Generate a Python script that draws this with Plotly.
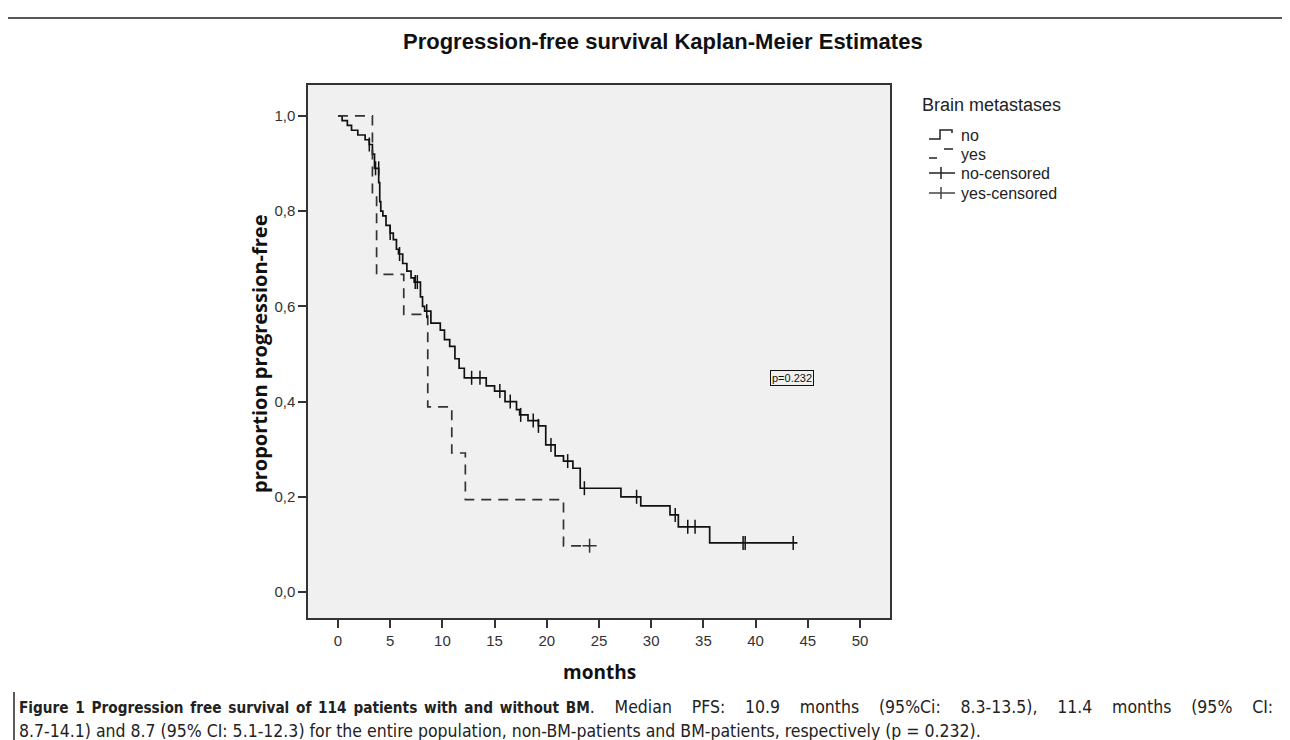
import plotly.graph_objects as go

W, H = 1290, 740

# ---------------- data ----------------
# "no" brain metastases: step curve (time in months, survival proportion)
no_time = [0.0, 0.4, 0.9, 1.3, 1.9, 2.6, 3.0, 3.3, 3.5, 3.9, 4.0, 4.1, 4.3, 4.6, 5.0,
           5.3, 5.6, 5.8, 6.2, 6.6, 7.0, 7.3, 7.9, 8.1, 8.3, 8.9, 9.8, 10.2, 10.7,
           11.2, 11.6, 12.1, 14.2, 15.0, 16.0, 17.1, 17.4, 18.2, 19.2, 19.9, 20.8,
           21.6, 22.5, 23.2, 27.1, 29.0, 31.8, 32.6, 35.6, 44.0]
no_surv = [1.0, 0.99, 0.98, 0.97, 0.96, 0.95, 0.94, 0.92, 0.89, 0.86, 0.82, 0.80, 0.79,
           0.77, 0.754, 0.74, 0.72, 0.71, 0.69, 0.674, 0.66, 0.651, 0.62, 0.60, 0.59,
           0.565, 0.55, 0.53, 0.516, 0.49, 0.47, 0.45, 0.433, 0.422, 0.40, 0.383,
           0.372, 0.36, 0.349, 0.309, 0.286, 0.275, 0.26, 0.218, 0.20, 0.181, 0.162,
           0.137, 0.103, 0.103]
no_cens_time = [3.0, 3.6, 3.9, 5.0, 5.9, 7.4, 7.6, 8.5, 12.8, 13.6, 15.5, 16.5, 17.5,
                18.7, 19.2, 20.4, 22.0, 23.6, 28.6, 32.3, 33.5, 34.2, 38.8, 39.0, 43.6]
no_cens_surv = [0.94, 0.89, 0.89, 0.754, 0.71, 0.651, 0.651, 0.59, 0.45, 0.45, 0.422,
                0.40, 0.372, 0.36, 0.349, 0.309, 0.275, 0.218, 0.20, 0.162, 0.137,
                0.137, 0.103, 0.103, 0.103]

# "yes" brain metastases
yes_time = [0.0, 3.3, 3.7, 6.3, 8.6, 10.9, 12.2, 21.6, 24.1]
yes_surv = [1.0, 0.833, 0.667, 0.583, 0.389, 0.292, 0.194, 0.097, 0.097]
yes_cens_time = [24.1]
yes_cens_surv = [0.097]

x_ticks = [0, 5, 10, 15, 20, 25, 30, 35, 40, 45, 50]
y_ticks = [0.0, 0.2, 0.4, 0.6, 0.8, 1.0]
y_tick_text = ["0,0", "0,2", "0,4", "0,6", "0,8", "1,0"]

legend_labels = ["no", "yes", "no-censored", "yes-censored"]

title_text = "Progression-free survival Kaplan-Meier Estimates"
legend_title = "Brain metastases"
p_text = "p=0.232"
caption1_bold = "Figure 1 Progression free survival of 114 patients with and without BM"
caption1_rest = ". Median PFS: 10.9 months (95%Ci: 8.3-13.5), 11.4 months (95% CI:"
caption2 = ("8.7-14.1) and 8.7 (95% CI: 5.1-12.3) for the entire population, "
            "non-BM-patients and BM-patients, respectively (p = 0.232).")

# ---------------- layout geometry (pixels) ----------------
PL, PR, PT, PB = 300, 882, 77, 610


def px(x):
    return x / W


def py(y):
    return 1 - y / H


fig = go.Figure()

fig.add_trace(go.Scatter(x=no_time, y=no_surv, mode="lines", name=legend_labels[0],
                         line=dict(shape="hv", color="#111111", width=1.7),
                         showlegend=False, hoverinfo="skip"))
fig.add_trace(go.Scatter(x=yes_time, y=yes_surv, mode="lines", name=legend_labels[1],
                         line=dict(shape="hv", color="#333333", width=1.7, dash="10px,7px"),
                         showlegend=False, hoverinfo="skip"))
fig.add_trace(go.Scatter(x=no_cens_time, y=no_cens_surv, mode="markers", name=legend_labels[2],
                         marker=dict(symbol="line-ns", size=10,
                                     line=dict(color="#111111", width=1.5)),
                         showlegend=False, hoverinfo="skip"))
fig.add_trace(go.Scatter(x=yes_cens_time, y=yes_cens_surv, mode="markers", name=legend_labels[3],
                         marker=dict(symbol="cross-thin", size=10,
                                     line=dict(color="#333333", width=1.5)),
                         showlegend=False, hoverinfo="skip"))

axis_font = dict(family="Liberation Sans, Arial, sans-serif", size=15, color="#333333")

fig.update_layout(
    width=W, height=H,
    margin=dict(l=0, r=0, t=0, b=0),
    paper_bgcolor="white",
    plot_bgcolor="#f0f0f0",
    showlegend=False,
    xaxis=dict(domain=[px(PL), px(PR)], range=[-2.87, 52.87],
               tickmode="array", tickvals=x_ticks, ticktext=[str(v) for v in x_ticks],
               ticks="outside", ticklen=8, tickwidth=1.5, tickcolor="#333333",
               showline=True, linecolor="#333333", linewidth=1.5, mirror=True,
               showgrid=False, zeroline=False, tickfont=axis_font),
    yaxis=dict(domain=[py(PB), py(PT)], range=[-0.0546, 1.065],
               tickmode="array", tickvals=y_ticks, ticktext=y_tick_text,
               ticks="outside", ticklen=8, tickwidth=1.5, tickcolor="#333333",
               showline=True, linecolor="#333333", linewidth=1.5, mirror=True,
               showgrid=False, zeroline=False, tickfont=axis_font),
)

ann = []
# title
ann.append(dict(text="<b>" + title_text + "</b>", x=px(655), y=py(34), xref="paper", yref="paper",
                showarrow=False, xanchor="center", yanchor="middle",
                font=dict(family="Liberation Sans, Arial", size=22, color="#111111")))
# axis titles
ann.append(dict(text="<b>proportion progression-free</b>", x=px(252), y=0.5, xref="paper",
                yref="y", showarrow=False, textangle=-90, xanchor="center", yanchor="middle",
                font=dict(family="Open Sans, sans-serif", size=20, color="#111111")))
ann.append(dict(text="<b>months</b>", x=25, y=py(664), xref="x", yref="paper",
                showarrow=False, xanchor="center", yanchor="middle",
                font=dict(family="Open Sans, sans-serif", size=19, color="#111111")))
# p value box
ann.append(dict(text=p_text, x=43.5, y=0.45, xref="x", yref="y", showarrow=False,
                xanchor="center", yanchor="middle", bordercolor="#111111", borderwidth=1,
                borderpad=1, bgcolor="#f0f0f0",
                font=dict(family="Liberation Sans, Arial", size=11, color="#111111")))
# legend
ann.append(dict(text=legend_title, x=px(912), y=py(97), xref="paper", yref="paper",
                showarrow=False, xanchor="left", yanchor="middle",
                font=dict(family="Liberation Sans, Arial", size=18, color="#222222")))
leg_y = [127, 146, 165, 185]
for lab, yy in zip(legend_labels, leg_y):
    ann.append(dict(text=lab, x=px(951), y=py(yy), xref="paper", yref="paper",
                    showarrow=False, xanchor="left", yanchor="middle",
                    font=dict(family="Liberation Sans, Arial", size=16, color="#222222")))
# caption
cap_family = "Liberation Sans Narrow, DejaVu Sans Condensed, Arial Narrow, sans-serif"
cap1 = ("<span style='font-size:15.2px;word-spacing:2px'><b>" + caption1_bold + "</b></span>"
        "<span style='word-spacing:14.8px'>" + caption1_rest + "</span>")
ann.append(dict(text=cap1, x=px(9), y=py(699), xref="paper", yref="paper",
                showarrow=False, xanchor="left", yanchor="middle",
                font=dict(family=cap_family, size=17.5, color="#222222")))
ann.append(dict(text=caption2, x=px(9), y=py(723), xref="paper", yref="paper",
                showarrow=False, xanchor="left", yanchor="middle",
                font=dict(family=cap_family, size=17.5, color="#222222")))
fig.update_layout(annotations=ann)

shapes = []
lc = dict(color="#222222", width=1.5)
# legend symbols
shapes.append(dict(type="path", xref="paper", yref="paper",
                   path=f"M {px(921)},{py(131)} L {px(932)},{py(131)} L {px(932)},{py(122)} "
                        f"L {px(944)},{py(122)} L {px(944)},{py(125)}",
                   line=lc))
shapes.append(dict(type="line", xref="paper", yref="paper", x0=px(921), x1=px(929),
                   y0=py(150), y1=py(150), line=lc))
shapes.append(dict(type="line", xref="paper", yref="paper", x0=px(936), x1=px(945),
                   y0=py(141), y1=py(141), line=lc))
for yy, col in [(165, "#222222"), (185, "#444444")]:
    shapes.append(dict(type="line", xref="paper", yref="paper", x0=px(921), x1=px(947),
                       y0=py(yy), y1=py(yy), line=dict(color=col, width=1.5)))
    shapes.append(dict(type="line", xref="paper", yref="paper", x0=px(933), x1=px(933),
                       y0=py(yy - 6), y1=py(yy + 6), line=dict(color=col, width=1.5)))
# outer figure border
shapes.append(dict(type="path", xref="paper", yref="paper",
                   path=f"M 0,{py(10)} L {px(1278)},{py(10)} Q {px(1286)},{py(10)} {px(1286)},{py(18)} "
                        f"L {px(1286)},{py(680)}",
                   line=dict(color="#222222", width=1.5)))
shapes.append(dict(type="line", xref="paper", yref="paper", x0=px(6), x1=px(6),
                   y0=py(684), y1=py(740), line=dict(color="#222222", width=1.5)))
fig.update_layout(shapes=shapes)

fig.write_html("out.html")
